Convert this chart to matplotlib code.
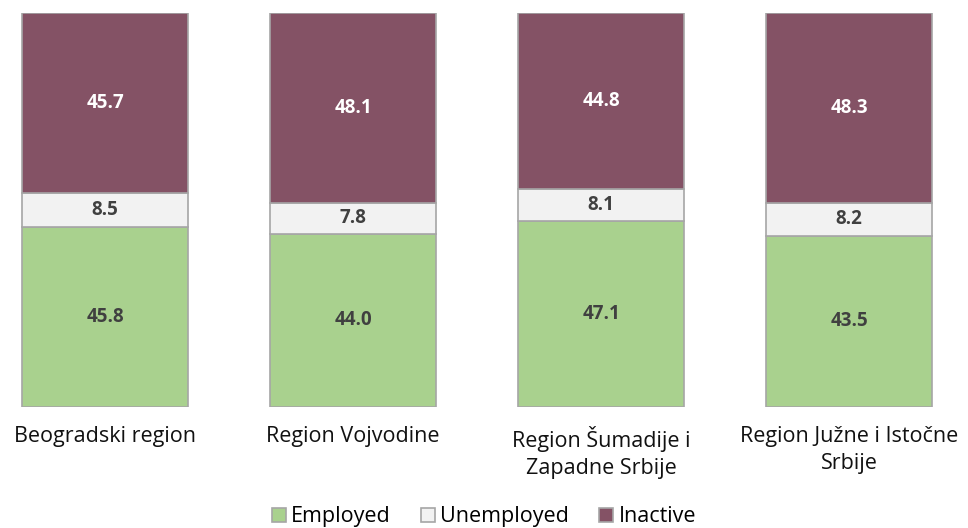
import matplotlib.pyplot as plt
import numpy as np

regions = ["Beogradski region", "Region Vojvodine",
           "Region Šumadije i\nZapadne Srbije", "Region Južne i Istočne\nSrbije"]
employed = [45.8, 44.0, 47.1, 43.5]
unemployed = [8.5, 7.8, 8.1, 8.2]
inactive = [45.7, 48.1, 44.8, 48.3]

plt.rcParams['font.family'] = ['Open Sans', 'DejaVu Sans']

fig = plt.figure(figsize=(9.68, 5.28), dpi=100)
ax = fig.add_axes([0, 0.2292, 1, 0.7462])

x = np.arange(len(regions))
w = 0.67
edge = '#a6a6a6'
colors = ['#a9d18e', '#f2f2f2', '#845265']
label_colors = ['#404040', '#404040', '#ffffff']
names = ['Employed', 'Unemployed', 'Inactive']

bottom = np.zeros(len(regions))
for vals, c, lc, n in zip([employed, unemployed, inactive], colors, label_colors, names):
    ax.bar(x, vals, w, bottom=bottom, color=c, edgecolor=edge,
           linewidth=1.2, label=n)
    for xi, b, v in zip(x, bottom, vals):
        ax.text(xi, b + v / 2, f"{v:.1f}", ha='center', va='center',
                fontsize=13.5, fontweight='bold', color=lc)
    bottom += np.array(vals)

ax.set_xlim(-0.4234, 3.4798)
ax.set_ylim(0, 100)
ax.set_xticks(x)
ax.set_xticklabels(regions, fontsize=15.5, color='#111111', linespacing=1.35)
ax.tick_params(axis='x', length=0, pad=14)
ax.set_yticks([])
for s in ax.spines.values():
    s.set_visible(False)

fig.legend(loc='center', bbox_to_anchor=(0.5, 0.021), ncol=3, frameon=False,
           fontsize=15.5, handlelength=0.65, handleheight=0.65, handletextpad=0.25,
           columnspacing=1.4)

plt.savefig("out.png", dpi=100)
